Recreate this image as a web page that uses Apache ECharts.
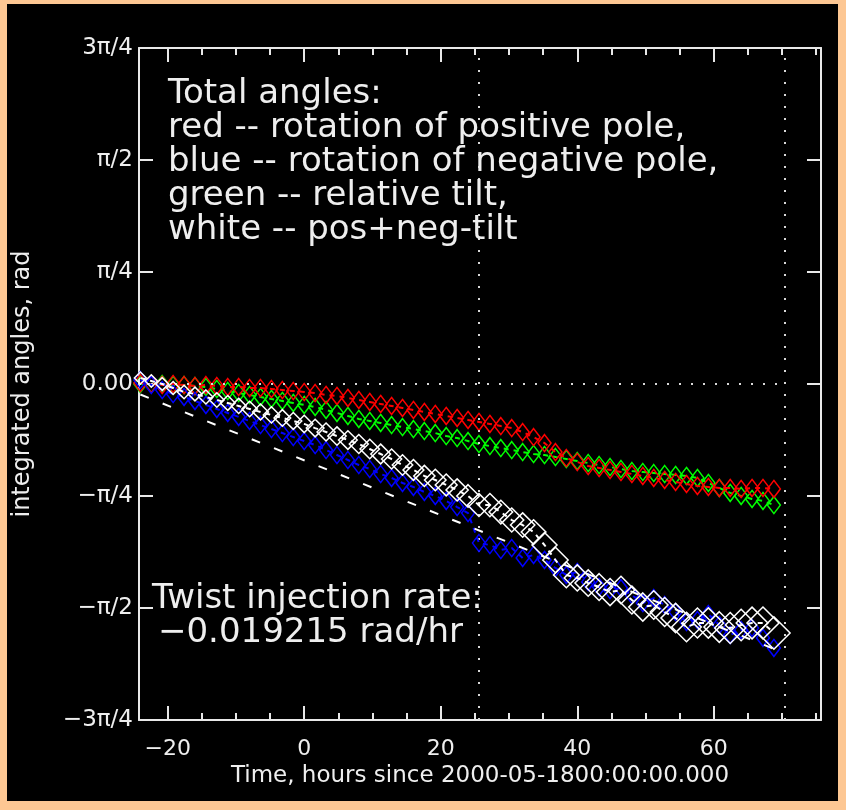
<!DOCTYPE html>
<html>
<head>
<meta charset="utf-8">
<script src="https://cdn.jsdelivr.net/npm/echarts@6/dist/echarts.min.js"></script>
<style>
html,body{margin:0;padding:0;background:#fdc793;}
#chart{width:846px;height:810px;}
</style>
</head>
<body>
<div id="chart"></div>
<script>
// ---- data (hours since 2000-05-18 00:00, integrated angles in rad) ----
var times = [-24.0,-22.4,-20.8,-19.2,-17.6,-16.0,-14.4,-12.8,-11.2,-9.6,-8.0,-6.4,-4.8,-3.2,-1.6,0.0,1.6,3.2,4.8,6.4,8.0,9.6,11.2,12.8,14.4,16.0,17.6,19.2,20.8,22.4,24.0,25.6,27.2,28.8,30.4,32.0,33.6,35.2,36.8,38.4,40.0,41.6,43.2,44.8,46.4,48.0,49.6,51.2,52.8,54.4,56.0,57.6,59.2,60.8,62.4,64.0,65.6,67.2,68.8];
var redVals = [0.007,0.000,-0.007,0.000,-0.007,-0.014,-0.007,-0.014,-0.021,-0.021,-0.028,-0.028,-0.035,-0.042,-0.049,-0.056,-0.063,-0.077,-0.084,-0.098,-0.112,-0.126,-0.140,-0.154,-0.168,-0.182,-0.196,-0.210,-0.224,-0.238,-0.252,-0.266,-0.280,-0.295,-0.309,-0.337,-0.372,-0.414,-0.477,-0.519,-0.547,-0.575,-0.589,-0.603,-0.617,-0.631,-0.645,-0.659,-0.673,-0.687,-0.701,-0.715,-0.722,-0.729,-0.729,-0.736,-0.729,-0.729,-0.736];
var greenVals = [0.000,0.000,0.000,-0.007,-0.007,-0.014,-0.021,-0.035,-0.049,-0.063,-0.077,-0.091,-0.105,-0.119,-0.133,-0.147,-0.161,-0.182,-0.203,-0.224,-0.245,-0.259,-0.273,-0.288,-0.302,-0.316,-0.330,-0.344,-0.365,-0.379,-0.400,-0.421,-0.435,-0.449,-0.463,-0.477,-0.491,-0.498,-0.512,-0.526,-0.540,-0.554,-0.568,-0.582,-0.596,-0.610,-0.617,-0.624,-0.631,-0.638,-0.645,-0.659,-0.694,-0.729,-0.764,-0.785,-0.806,-0.820,-0.849];
var blueVals = [0.028,-0.007,-0.042,-0.070,-0.091,-0.119,-0.147,-0.175,-0.203,-0.231,-0.259,-0.288,-0.316,-0.344,-0.372,-0.400,-0.428,-0.463,-0.498,-0.533,-0.568,-0.596,-0.631,-0.659,-0.694,-0.722,-0.757,-0.785,-0.820,-0.863,-0.905,-1.115,-1.129,-1.164,-1.150,-1.220,-1.199,-1.234,-1.290,-1.339,-1.318,-1.388,-1.424,-1.445,-1.431,-1.480,-1.536,-1.501,-1.550,-1.599,-1.669,-1.655,-1.613,-1.690,-1.760,-1.725,-1.711,-1.781,-1.851];
var whiteVals = [0.042,0.021,0.000,-0.028,-0.056,-0.070,-0.091,-0.112,-0.133,-0.154,-0.175,-0.196,-0.217,-0.238,-0.259,-0.280,-0.309,-0.337,-0.365,-0.393,-0.421,-0.456,-0.491,-0.526,-0.568,-0.603,-0.645,-0.673,-0.708,-0.743,-0.785,-0.849,-0.849,-0.898,-0.954,-0.989,-1.038,-1.129,-1.234,-1.339,-1.360,-1.396,-1.424,-1.459,-1.445,-1.515,-1.564,-1.550,-1.599,-1.641,-1.704,-1.676,-1.676,-1.704,-1.711,-1.690,-1.676,-1.676,-1.746];
// linear fit of the white curve (end points)
var fitTimes = [-24.0, 68.8];
var fitVals = [-0.074, -1.857];
// vertical dotted marker times
var eventTimes = [25.5, 70.4];
var xRange = [-24.2, 75.7];
var yTickLabels = ['\u22123\u03c0/4','\u2212\u03c0/2','\u2212\u03c0/4','0.00','\u03c0/4','\u03c0/2','3\u03c0/4'];
var legendLines = ['Total angles:','red -- rotation of positive pole,','blue -- rotation of negative pole,','green -- relative tilt,','white -- pos+neg-tilt'];
var rateLines = ['Twist injection rate:','\u22120.019215 rad/hr'];

function pairs(xs, ys){ var o=[]; for(var i=0;i<xs.length;i++){o.push([xs[i],ys[i]]);} return o; }

var Q = Math.PI/4;
var FONT = "'DejaVu Sans',sans-serif";
var AX = '#e8e8e8';
var TXT = '#eeeeee';

var chart = echarts.init(document.getElementById('chart'), null, {renderer:'canvas'});

function xAxisDef(pos, major, showLine, showLabel){
  return {
    type:'value', position:pos, min:xRange[0], max:xRange[1],
    minInterval: major?20:5, maxInterval: major?20:5, splitNumber: major?5:20,
    axisLine:{show:showLine, onZero:false, lineStyle:{color:AX,width:2}},
    axisTick:{show:true, inside:true, length: major?14:7, lineStyle:{color:AX,width:2}},
    axisLabel:{show:showLabel, color:TXT, fontFamily:FONT, fontSize:22, margin:18,
      formatter:function(v){ if(Math.abs(v/20-Math.round(v/20))>1e-6) return ''; return (v<0?'\u2212':'')+Math.abs(Math.round(v)); }},
    splitLine:{show:false},
    name: showLabel ? 'Time, hours since 2000-05-1800:00:00.000' : '',
    nameLocation:'middle', nameGap:44,
    nameTextStyle:{color:TXT, fontFamily:FONT, fontSize:23}
  };
}

function yAxisDef(pos, showLabel){
  return {
    type:'value', position:pos, min:-3*Q, max:3*Q, interval:Q,
    axisLine:{show:true, onZero:false, lineStyle:{color:AX,width:2}},
    axisTick:{show:true, inside:true, length:14, lineStyle:{color:AX,width:2}},
    axisLabel:{show:showLabel, color:TXT, fontFamily:FONT, fontSize:23, margin:6, padding:[6,0,0,0],
      formatter:function(v){ var k=Math.round(v/Q); return yTickLabels[k+3]; }},
    splitLine:{show:false},
    name: showLabel ? 'integrated angles, rad' : '',
    nameLocation:'middle', nameGap:104, nameRotate:90,
    nameTextStyle:{color:TXT, fontFamily:FONT, fontSize:24}
  };
}

function dataSeries(name, vals, color, z, sizeFn){
  return {
    name:name, type:'line', xAxisIndex:0, yAxisIndex:0, z:z,
    data: pairs(times, vals),
    symbol:'diamond', symbolSize: sizeFn || [13,17], showAllSymbol:true,
    itemStyle:{color:'transparent', borderColor:color, borderWidth:1.5},
    lineStyle:{color:color, width:2, type:[5,5]},
    emphasis:{disabled:true}, animation:false
  };
}

var dotStyle = {color:'#d8d8d8', width:2, type:[2,10]};

var option = {
  backgroundColor:'#fdc793',
  animation:false,
  grid:{left:139, right:25, top:48, bottom:90, containLabel:false},
  graphic:[
    {type:'rect', z:-10, shape:{x:7,y:4,width:831,height:797}, style:{fill:'#000'}}
  ].concat(legendLines.map(function(t,i){
    return {type:'text', z:100, x:168, y:94+34*i, style:{text:t, fill:TXT, font:'34px '+FONT, verticalAlign:'middle'}};
  })).concat(rateLines.map(function(t,i){
    return {type:'text', z:100, x:[152,158][i], y:599+34*i, style:{text:t, fill:TXT, font:'34px '+FONT, verticalAlign:'middle'}};
  })),
  xAxis:[ xAxisDef('bottom',true,true,true), xAxisDef('bottom',false,false,false),
          xAxisDef('top',true,true,false), xAxisDef('top',false,false,false) ],
  yAxis:[ yAxisDef('left',true), yAxisDef('right',false) ],
  series:[
    {type:'line', xAxisIndex:0, yAxisIndex:0, data:[], z:1,
     markLine:{silent:true, symbol:'none', label:{show:false}, lineStyle:dotStyle, animation:false,
       data: eventTimes.map(function(t){return {xAxis:t};}).concat([[{coord:[xRange[0],0]},{coord:[eventTimes[1],0]}]])}},
    dataSeries('green', greenVals, '#00ff00', 3),
    dataSeries('red', redVals, '#ff0000', 4),
    dataSeries('blue', blueVals, '#0000ff', 5),
    {name:'fit', type:'line', xAxisIndex:0, yAxisIndex:0, z:6, data:pairs(fitTimes, fitVals), symbol:'none',
     lineStyle:{color:'#ffffff', width:2, type:[9,15]}, animation:false},
    dataSeries('white', whiteVals, '#ffffff', 7, function(v){ return 12 + 0.22*(v[0]-times[0]); })
  ]
};
chart.setOption(option);
</script>
</body>
</html>
